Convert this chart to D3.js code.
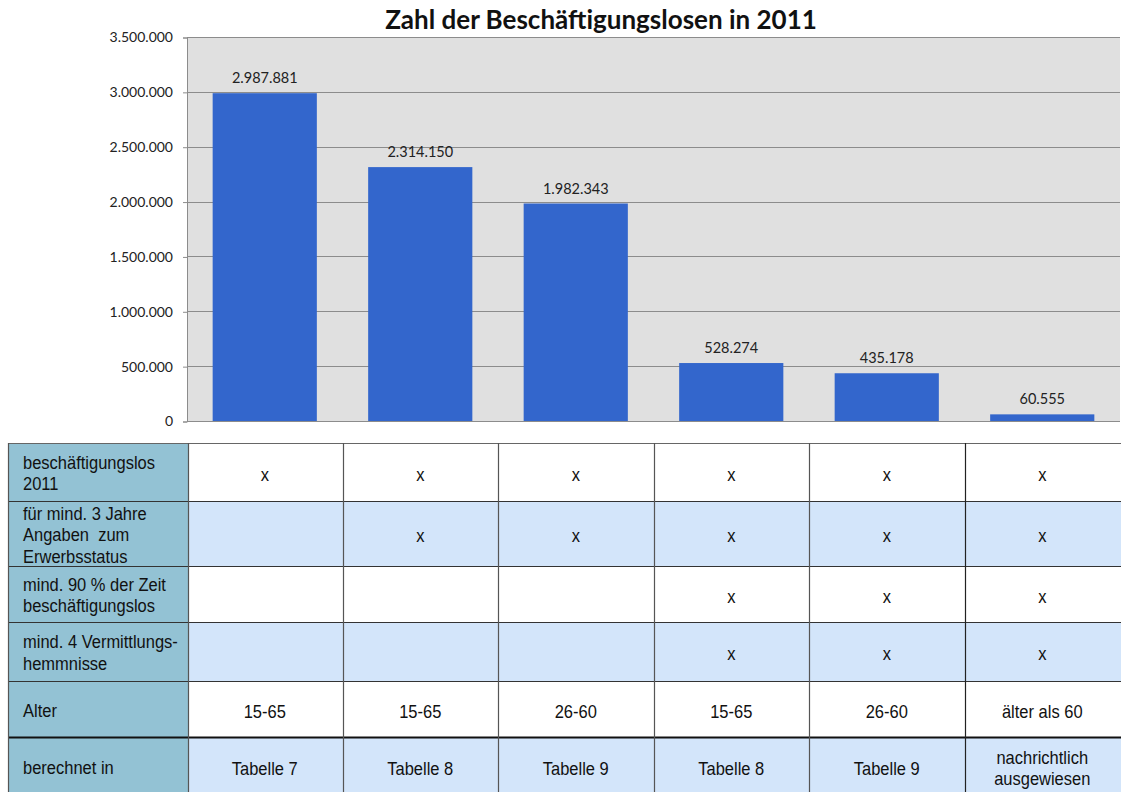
<!DOCTYPE html>
<html>
<head>
<meta charset="utf-8">
<script src="https://cdn.jsdelivr.net/npm/d3@7"></script>
<style>
  body { margin: 0; background: #fff; }
  svg { display: block; }
  text { white-space: pre; }
</style>
</head>
<body>
<svg></svg>
<script>
let title = "Zahl der Beschäftigungslosen in 2011"
let groups = ["g1", "g2", "g3", "g4", "g5", "g6"]
let values = [2987881, 2314150, 1982343, 528274, 435178, 60555]
let yTicks = [0, 500000, 1000000, 1500000, 2000000, 2500000, 3000000, 3500000]

let rowLabels = [
  ["beschäftigungslos", "2011"],
  ["für mind. 3 Jahre", "Angaben  zum", "Erwerbsstatus"],
  ["mind. 90 % der Zeit", "beschäftigungslos"],
  ["mind. 4 Vermittlungs-", "hemmnisse"],
  ["Alter"],
  ["berechnet in"]
]
let rowBeschaeftigungslos = ["x", "x", "x", "x", "x", "x"]
let rowDreiJahre = ["", "x", "x", "x", "x", "x"]
let rowNeunzig = ["", "", "", "x", "x", "x"]
let rowHemmnisse = ["", "", "", "x", "x", "x"]
let rowAlter = ["15-65", "15-65", "26-60", "15-65", "26-60", "älter als 60"]
let rowBerechnet = ["Tabelle 7", "Tabelle 8", "Tabelle 9", "Tabelle 8", "Tabelle 9", "nachrichtlich\nausgewiesen"]
let tableRows = [rowBeschaeftigungslos, rowDreiJahre, rowNeunzig, rowHemmnisse, rowAlter, rowBerechnet]

let width = 1121
let height = 792
let plotLeft = 187
let plotRight = 1120
let plotTop = 37
let plotBottom = 421

let tableLeft = 8
let rowTops = [443, 501, 566, 622, 681, 737, 795]

let chartFont = "Lato, 'Open Sans', sans-serif"
let tableFont = "'Liberation Sans', Arial, sans-serif"

let svg = d3.select('svg')
  .attr('width', width)
  .attr('height', height)

let fmt = d3.formatLocale({ decimal: ",", thousands: ".", grouping: [3], currency: ["", "€"] }).format(",")

let xScale = d3.scaleBand()
  .domain(groups)
  .range([plotLeft, plotRight])
  .paddingInner(0.33)
  .paddingOuter(0.165)

let yScale = d3.scaleLinear()
  .domain([0, 3500000])
  .range([plotBottom, plotTop])

// plot background
svg.append('rect')
  .attr('x', plotLeft)
  .attr('y', plotTop)
  .attr('width', plotRight - plotLeft)
  .attr('height', plotBottom - plotTop)
  .attr('fill', '#e0e0e0')

// gridlines
svg.append('g')
  .selectAll('line')
  .data(yTicks)
  .enter()
  .append('line')
  .attr('x1', plotLeft)
  .attr('x2', plotRight)
  .attr('y1', d => Math.round(yScale(d)) + 0.5)
  .attr('y2', d => Math.round(yScale(d)) + 0.5)
  .attr('stroke', '#8c8c8c')
  .attr('stroke-width', 1)

// y axis
let yAxis = d3.axisLeft(yScale)
  .tickValues(yTicks)
  .tickSize(4)
  .tickPadding(10)
  .tickFormat(fmt)

let yG = svg.append('g')
  .attr('transform', `translate(${plotLeft}, 0.5)`)
  .call(yAxis)
yG.select('.domain').attr('stroke', '#8c8c8c')
yG.selectAll('.tick line').attr('stroke', '#8c8c8c')
yG.selectAll('.tick text')
  .attr('font-family', chartFont)
  .attr('font-size', 14)
  .attr('fill', '#222')

// bars
svg.append('g')
  .selectAll('rect')
  .data(values)
  .enter()
  .append('rect')
  .attr('x', (d, i) => xScale(groups[i]))
  .attr('y', d => yScale(d))
  .attr('width', xScale.bandwidth())
  .attr('height', d => plotBottom - yScale(d))
  .attr('fill', '#3366cc')

// data labels
svg.append('g')
  .selectAll('text')
  .data(values)
  .enter()
  .append('text')
  .attr('x', (d, i) => xScale(groups[i]) + xScale.bandwidth() / 2)
  .attr('y', d => yScale(d) - 10)
  .attr('text-anchor', 'middle')
  .attr('font-family', chartFont)
  .attr('font-size', 14.5)
  .attr('fill', '#222')
  .text(d => fmt(d))

// title
svg.append('text')
  .attr('x', 601)
  .attr('y', 29)
  .attr('text-anchor', 'middle')
  .attr('font-family', chartFont)
  .attr('font-weight', 'bold')
  .attr('font-size', 26)
  .attr('fill', '#111')
  .text(title)

// table
let step = xScale.step()
let colLeft = i => xScale(groups[i]) - (step - xScale.bandwidth()) / 2
let table = svg.append('g')

let addText = (x, y, t, anchor) => {
  table.append('text')
    .attr('transform', `translate(${x},${y}) scale(1,1.08)`)
    .attr('text-anchor', anchor)
    .attr('font-family', tableFont)
    .attr('font-size', 16.5)
    .attr('fill', '#111')
    .text(t)
}

tableRows.forEach((row, r) => {
  let y0 = rowTops[r]
  let y1 = rowTops[r + 1]
  let fill = r % 2 === 0 && r !== 5 ? '#ffffff' : '#d3e5fa'

  table.append('rect')
    .attr('x', tableLeft)
    .attr('y', y0)
    .attr('width', plotLeft + 1 - tableLeft)
    .attr('height', y1 - y0)
    .attr('fill', '#93c2d4')

  table.append('rect')
    .attr('x', plotLeft + 1)
    .attr('y', y0)
    .attr('width', width - plotLeft - 1)
    .attr('height', y1 - y0)
    .attr('fill', fill)

  let lines = rowLabels[r]
  let lh = 21.5
  let cy = (y0 + y1) / 2
  lines.forEach((t, k) => {
    addText(23, cy + (k - (lines.length - 1) / 2) * lh + 7.5, t, 'start')
  })

  row.forEach((cell, c) => {
    let parts = cell.split('\n')
    parts.forEach((t, k) => {
      addText(colLeft(c) + step / 2, cy + (k - (parts.length - 1) / 2) * 21 + 8.5, t, 'middle')
    })
  })
})

// horizontal rules
rowTops.slice(0, 6).forEach((y, r) => {
  table.append('line')
    .attr('x1', tableLeft)
    .attr('x2', width)
    .attr('y1', y + 0.5)
    .attr('y2', y + 0.5)
    .attr('stroke', r === 5 ? '#111' : (r === 0 ? '#666' : '#333'))
    .attr('stroke-width', r === 5 ? 2 : 1)
})

// vertical rules
let vx = [tableLeft, plotLeft + 1].concat(groups.slice(1).map((g, i) => colLeft(i + 1)))
vx.forEach((x, i) => {
  table.append('line')
    .attr('x1', Math.round(x) + 0.5)
    .attr('x2', Math.round(x) + 0.5)
    .attr('y1', rowTops[0])
    .attr('y2', height)
    .attr('stroke', i >= 6 ? '#222' : '#555')
    .attr('stroke-width', 1.2)
})
</script>
</body>
</html>
